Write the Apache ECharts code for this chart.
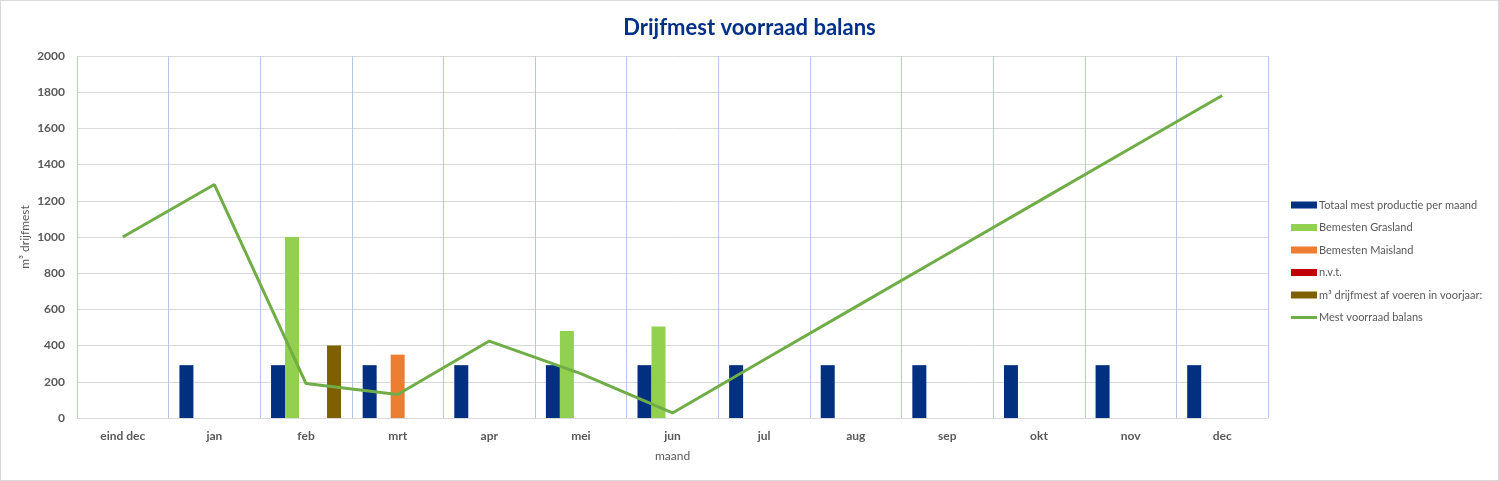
<!DOCTYPE html>
<html>
<head>
<meta charset="utf-8">
<script src="https://cdn.jsdelivr.net/npm/echarts@6/dist/echarts.min.js"></script>
<style>
  html, body { margin: 0; padding: 0; background: #fff; }
  #chart { width: 1497px; height: 479px; border: 1px solid #d9d9d9; }
</style>
</head>
<body>
<div id="chart"></div>
<script>
var months = ['eind dec', 'jan', 'feb', 'mrt', 'apr', 'mei', 'jun', 'jul', 'aug', 'sep', 'okt', 'nov', 'dec']
var productie = [null, 292, 292, 292, 292, 292, 292, 292, 292, 292, 292, 292, 292]
var grasland = [null, null, 1000, null, null, 480, 505, null, null, null, null, null, null]
var maisland = [null, null, null, 350, null, null, null, null, null, null, null, null, null]
var nvt = [null, null, null, null, null, null, null, null, null, null, null, null, null]
var afvoeren = [null, null, 400, null, null, null, null, null, null, null, null, null, null]
var balans = [1000, 1290, 190, 130, 425, 245, 28, 322, 614, 906, 1198, 1490, 1782]

var chart = echarts.init(document.getElementById('chart'))
var font = 'Lato, "Open Sans", sans-serif'

function bar(name, data, color) {
  return {
    name: name,
    type: 'bar',
    data: data,
    barWidth: 14,
    barGap: '0%',
    itemStyle: { color: color }
  }
}

chart.setOption({
  animation: false,
  textStyle: { fontFamily: font },
  title: {
    text: 'Drijfmest voorraad balans',
    left: 'center',
    top: 11,
    textStyle: { color: '#003087', fontSize: 22, fontWeight: 'bold', fontFamily: font }
  },
  legend: {
    orient: 'vertical',
    left: 1285,
    top: 193,
    itemWidth: 26,
    itemHeight: 7,
    itemGap: 10.5,
    textStyle: { color: '#595959', fontSize: 11, lineHeight: 12, fontFamily: font, padding: [0, 0, 0, -3] },
    data: [
      { name: 'Totaal mest productie per maand', icon: 'rect' },
      { name: 'Bemesten Grasland', icon: 'rect' },
      { name: 'Bemesten Maisland', icon: 'rect' },
      { name: 'n.v.t.', icon: 'rect' },
      { name: 'm³ drijfmest af voeren in voorjaar:', icon: 'rect' },
      { name: 'Mest voorraad balans', icon: 'path://M0,2 L26,2 L26,5 L0,5 Z' }
    ]
  },
  grid: { left: 76, right: 230, top: 55, bottom: 62 },
  xAxis: {
    type: 'category',
    data: months,
    name: 'maand',
    nameLocation: 'middle',
    nameGap: 32,
    nameTextStyle: { color: '#595959', fontSize: 12 },
    axisLine: { lineStyle: { color: '#d9d9d9' } },
    axisTick: { show: false },
    axisLabel: { color: '#595959', fontSize: 12, fontWeight: 'bold', margin: 12 },
    splitLine: { show: true, lineStyle: { color: '#b4c7e7', width: 1 } }
  },
  yAxis: {
    type: 'value',
    min: 0,
    max: 2000,
    interval: 200,
    name: 'm³ drijfmest',
    nameLocation: 'middle',
    nameGap: 46,
    nameMoveOverlap: false,
    nameTextStyle: { color: '#595959', fontSize: 12 },
    axisLine: { show: false },
    axisTick: { show: false },
    axisLabel: {
      color: '#595959', fontSize: 12, fontWeight: 'bold', margin: 12,
      formatter: function (v) { return String(v) }
    },
    splitLine: { lineStyle: { color: '#d9d9d9' } }
  },
  series: [
    bar('Totaal mest productie per maand', productie, '#00307f'),
    bar('Bemesten Grasland', grasland, '#92d050'),
    bar('Bemesten Maisland', maisland, '#ed7d31'),
    bar('n.v.t.', nvt, '#c00000'),
    bar('m³ drijfmest af voeren in voorjaar:', afvoeren, '#7f6000'),
    {
      name: 'Mest voorraad balans',
      type: 'line',
      data: balans,
      symbol: 'none',
      lineStyle: { color: '#70ad47', width: 3 },
      itemStyle: { color: '#70ad47' }
    }
  ]
})
</script>
</body>
</html>
